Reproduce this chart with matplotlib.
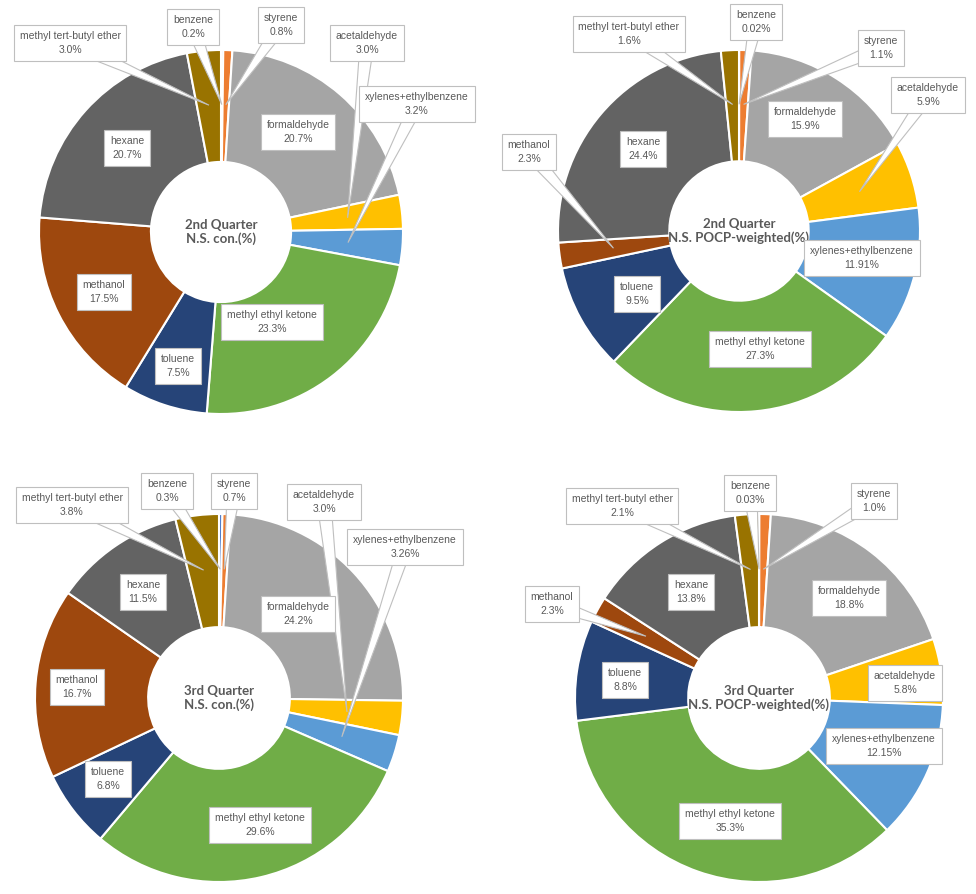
import numpy as np
import matplotlib
matplotlib.use("Agg")
import matplotlib.pyplot as plt
from matplotlib import font_manager
from matplotlib.patches import Polygon

# categories in drawing order (clockwise from 12 o'clock)
compounds = ["benzene", "styrene", "formaldehyde", "acetaldehyde",
             "xylenes+ethylbenzene", "methyl ethyl ketone", "toluene",
             "methanol", "hexane", "methyl tert-butyl ether"]
colors = ["#4472C4", "#ED7D31", "#A5A5A5", "#FFC000", "#5B9BD5",
          "#70AD47", "#264478", "#9E480E", "#636363", "#997300"]

# percentages
q2_con = [0.2, 0.8, 20.7, 3.0, 3.2, 23.3, 7.5, 17.5, 20.7, 3.0]
q2_pocp = [0.02, 1.1, 15.9, 5.9, 11.91, 27.3, 9.5, 2.3, 24.4, 1.6]
q3_con = [0.3, 0.7, 24.2, 3.0, 3.26, 29.6, 6.8, 16.7, 11.5, 3.8]
q3_pocp = [0.03, 1.0, 18.8, 5.8, 12.15, 35.3, 8.8, 2.3, 13.8, 2.1]

titles = ["2nd Quarter\nN.S. con.(%)", "2nd Quarter\nN.S. POCP-weighted(%)",
          "3rd Quarter\nN.S. con.(%)", "3rd Quarter\nN.S. POCP-weighted(%)"]

W, H = 976, 894

# layout (image pixel coords): chart centre, radius, label box centres,
# and which labels use a callout
layout = [
    dict(c=(221, 232), r=182,
         boxes=[(193, 27), (281, 25), (298, 132), (367, 43), (417, 104),
                (272, 322), (178, 366), (104, 292), (127, 148), (70, 43)],
         callout=[0, 1, 3, 4, 9]),
    dict(c=(739, 231), r=181,
         boxes=[(756, 22), (881, 48), (805, 119), (928, 95), (862, 258),
                (760, 349), (637, 294), (529, 152), (643, 149), (629, 34)],
         callout=[0, 1, 3, 7, 9]),
    dict(c=(219, 698), r=184,
         boxes=[(167, 491), (234, 491), (298, 614), (324, 502), (405, 547),
                (260, 825), (108, 779), (77, 687), (143, 592), (72, 505)],
         callout=[0, 1, 3, 4, 9]),
    dict(c=(759, 698), r=184,
         boxes=[(750, 493), (874, 501), (849, 598), (905, 683), (884, 746),
                (730, 821), (625, 680), (552, 604), (691, 592), (622, 506)],
         callout=[0, 1, 7, 9]),
]

names = {f.name for f in font_manager.fontManager.ttflist}
label_font = "Liberation Sans Narrow" if "Liberation Sans Narrow" in names else "Liberation Sans"

fig = plt.figure(figsize=(W / 100, H / 100), dpi=100)
ax = fig.add_axes([0, 0, 1, 1])

for values, title, lay in zip([q2_con, q2_pocp, q3_con, q3_pocp], titles, layout):
    cx, cy = lay["c"][0], H - lay["c"][1]
    r = lay["r"]
    wedges, _ = ax.pie(values, colors=colors, startangle=90, counterclock=False,
                       radius=r, center=(cx, cy),
                       wedgeprops=dict(width=r * 0.615, edgecolor="white", linewidth=1.5))
    ax.text(cx, cy, title, ha="center", va="center", fontsize=9.5, fontweight="bold",
            color="#595959", family="Lato", linespacing=1.2)

    for i, w in enumerate(wedges):
        ang = np.deg2rad((w.theta1 + w.theta2) / 2)
        tip = (cx + 0.7 * r * np.cos(ang), cy + 0.7 * r * np.sin(ang))
        bx, by = lay["boxes"][i][0], H - lay["boxes"][i][1]
        if i in lay["callout"]:
            d = np.array([tip[0] - bx, tip[1] - by])
            d = d / np.hypot(*d)
            p = np.array([-d[1], d[0]]) * 7
            poly = Polygon([(bx + p[0], by + p[1]), tip, (bx - p[0], by - p[1])],
                           closed=True, facecolor="white", edgecolor="#BFBFBF",
                           linewidth=0.8, zorder=5)
            ax.add_patch(poly)
        ax.text(bx, by, f"{compounds[i]}\n{values[i]}%", ha="center", va="center",
                fontsize=7.5, color="#595959", family=label_font, linespacing=1.6,
                zorder=6,
                bbox=dict(boxstyle="square,pad=0.55", facecolor="white",
                          edgecolor="#BFBFBF", linewidth=0.8))

ax.set_xlim(0, W)
ax.set_ylim(0, H)
ax.set_aspect("equal")
ax.axis("off")

plt.savefig("out.png", dpi=100, facecolor="white")
